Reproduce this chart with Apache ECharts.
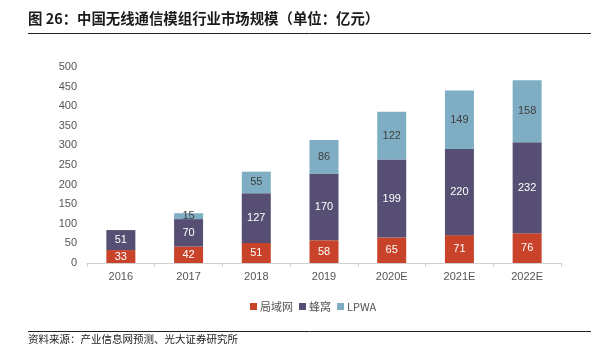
<!DOCTYPE html>
<html><head><meta charset="utf-8">
<script src="https://cdn.jsdelivr.net/npm/echarts@6/dist/echarts.min.js"></script>
<style>html,body{margin:0;padding:0;background:#fff}#c{width:591px;height:352px}</style>
</head><body><div id="c"></div>
<script>
const categories = ['2016','2017','2018','2019','2020E','2021E','2022E'];
const lan = [33,42,51,58,65,71,76];
const cellular = [51,70,127,170,199,220,232];
const lpwa = [null,15,55,86,122,149,158];
const seriesNames = ['局域网','蜂窝','LPWA'];
const yTicks = {min:0,max:500,interval:50};

const chart = echarts.init(document.getElementById('c'));
const font = '"Liberation Sans", Arial, "Noto Sans CJK SC", sans-serif';
const lbl = (color) => ({show:true, position:'inside', color:color, fontSize:11, fontFamily:font});
chart.setOption({
  animation:false,
  textStyle:{fontFamily:font},
  graphic:[
    {type:'text', left:28, top:11, style:{text:'图 26：中国无线通信模组行业市场规模（单位：亿元）', font:'bold 14.4px "Noto Sans CJK SC", sans-serif', fill:'#1a1a1a'}},
    {type:'line', shape:{x1:28,y1:33.5,x2:591,y2:33.5}, style:{stroke:'#222',lineWidth:1}},
    {type:'line', shape:{x1:28,y1:331.5,x2:591,y2:331.5}, style:{stroke:'#222',lineWidth:1}},
    {type:'text', left:28, top:334, style:{text:'资料来源：产业信息网预测、光大证券研究所', font:'10.5px "Noto Sans CJK SC", sans-serif', fill:'#222'}}
  ],
  grid:{left:87, top:67, width:474, height:196},
  legend:{top:296, left:245, itemWidth:7, itemHeight:7, itemGap:6, icon:'rect',
    textStyle:{fontSize:11, color:'#555', fontFamily:'"Noto Sans CJK SC", sans-serif', padding:[0,0,0,-2]},
    data:seriesNames},
  xAxis:{type:'category', data:categories,
    axisLine:{lineStyle:{color:'#d0d0d0'}},
    axisTick:{show:true, length:4, lineStyle:{color:'#d0d0d0'}},
    axisLabel:{color:'#555', fontSize:11, margin:8}},
  yAxis:{type:'value', min:yTicks.min, max:yTicks.max, interval:yTicks.interval,
    splitLine:{show:false}, axisLine:{show:false}, axisTick:{show:false},
    axisLabel:{color:'#555', fontSize:11, margin:10}},
  series:[
    {name:seriesNames[0], type:'bar', stack:'a', data:lan, barWidth:29, itemStyle:{color:'#C8432A'}, label:lbl('#fff')},
    {name:seriesNames[1], type:'bar', stack:'a', data:cellular, barWidth:29, itemStyle:{color:'#574F73'}, label:lbl('#fff')},
    {name:seriesNames[2], type:'bar', stack:'a', data:lpwa, barWidth:29, itemStyle:{color:'#7FAEC4'}, label:lbl('#404040')}
  ]
});
</script></body></html>
